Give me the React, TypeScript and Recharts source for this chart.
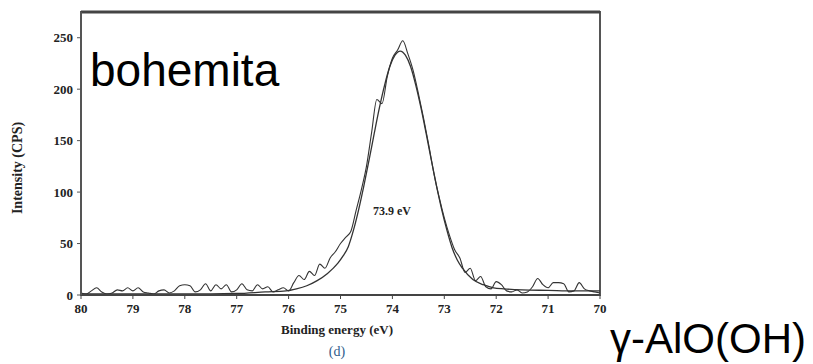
import React from 'react';
import { LineChart, Line, XAxis, YAxis, ReferenceArea, ReferenceLine } from 'recharts';

// experimental Al 2p spectrum (binding energy in eV, intensity in CPS)
const rawEnergy = [
  80.0, 79.9, 79.8, 79.7, 79.6, 79.5, 79.4, 79.3, 79.2, 79.1, 79.0, 78.9, 78.8, 78.7, 78.6, 78.5, 78.4, 78.3, 78.2, 78.1,
  78.0, 77.9, 77.8, 77.7, 77.6, 77.5, 77.4, 77.3, 77.2, 77.1, 77.0, 76.9, 76.8, 76.7, 76.6, 76.5, 76.4, 76.3, 76.2, 76.1,
  76.0, 75.9, 75.8, 75.7, 75.6, 75.5, 75.4, 75.3, 75.2, 75.1, 75.0, 74.9, 74.8, 74.7, 74.6, 74.5, 74.4, 74.3, 74.2, 74.1,
  74.0, 73.9, 73.8, 73.7, 73.6, 73.5, 73.4, 73.3, 73.2, 73.1, 73.0, 72.9, 72.8, 72.7, 72.6, 72.5, 72.4, 72.3, 72.2, 72.1,
  72.0, 71.9, 71.8, 71.7, 71.6, 71.5, 71.4, 71.3, 71.2, 71.1, 71.0, 70.9, 70.8, 70.7, 70.6, 70.5, 70.4, 70.3, 70.2, 70.1,
  70.0,
];
const rawCounts = [
  2, 1, 4, 7, 3, 1, 2, 5, 4, 7, 4, 7, 3, 2, 1, 4, 5, 2, 4, 9,
  10, 9, 3, 5, 11, 4, 10, 6, 10, 3, 5, 11, 5, 4, 10, 6, 8, 3, 5, 7,
  4, 12, 19, 15, 23, 19, 30, 26, 36, 42, 50, 56, 62, 82, 102, 125, 158, 190, 186, 212,
  230, 238, 247, 234, 218, 196, 172, 146, 118, 95, 75, 58, 44, 36, 22, 26, 14, 18, 8, 6,
  13, 10, 4, 3, 5, 2, 3, 8, 16, 10, 7, 12, 12, 11, 3, 4, 12, 6, 4, 3,
  2,
];

// fitted component, 73.9 eV
const fitEnergy = [
  80.0, 78.0, 77.0, 76.45, 76.05, 75.85, 75.65, 75.45, 75.25, 75.05, 74.95, 74.85, 74.75, 74.65, 74.55, 74.45, 74.35, 74.25,
  74.15, 74.05, 73.95, 73.85, 73.75, 73.65, 73.55, 73.45, 73.35, 73.25, 73.15, 73.05, 72.95, 72.85, 72.75, 72.65, 72.45,
  72.25, 72.05, 71.85, 71.5, 71.0, 70.5, 70.0,
];
const fitCounts = [
  1, 1, 1.5, 3, 4, 6, 9, 14, 21, 31, 38, 47, 63, 83, 106, 131, 157, 182,
  204, 222, 233, 237, 233, 222, 204, 182, 157, 131, 106, 83, 63, 46, 34, 26, 15,
  10, 7, 6, 5, 4.5, 4, 4,
];

const xTicks = [80, 79, 78, 77, 76, 75, 74, 73, 72, 71, 70];
const yTicks = [0, 50, 100, 150, 200, 250];

const rawData = rawEnergy.map((e, i) => ({ e, v: rawCounts[i] }));
const fitData = fitEnergy.map((e, i) => ({ e, v: fitCounts[i] }));

const serif = '"Liberation Serif", "Times New Roman", serif';
const sans = '"Liberation Sans", Arial, sans-serif';
const tickStyle = { fontFamily: serif, fontSize: 13, fontWeight: 700, fill: '#222' };

export default function App() {
  return (
    <div style={{ position: 'absolute', left: 0, top: 0, width: 813, height: 364, background: '#fff', overflow: 'hidden' }}>
      <LineChart width={813} height={364} margin={{ top: 12, right: 213, bottom: 0, left: 0 }}>
        <XAxis
          type="number"
          dataKey="e"
          domain={[70, 80]}
          reversed
          ticks={xTicks}
          allowDuplicatedCategory={false}
          height={69}
          tickSize={4}
          tickMargin={5}
          tick={tickStyle}
          axisLine={{ stroke: '#444', strokeWidth: 2 }}
          tickLine={{ stroke: '#444' }}
        />
        <YAxis
          type="number"
          domain={[0, 275]}
          ticks={yTicks}
          width={81}
          tickSize={4}
          tickMargin={4}
          tick={tickStyle}
          axisLine={{ stroke: '#555', strokeWidth: 2 }}
          tickLine={{ stroke: '#555' }}
        />
        <ReferenceArea x1={80} x2={70} y1={0} y2={275} fill="none" stroke="#555" strokeWidth={2} ifOverflow="visible" />
        <ReferenceLine y={275} stroke="#444" strokeWidth={3} ifOverflow="visible" />
        <Line data={fitData} dataKey="v" type="monotone" stroke="#333" strokeWidth={1.3} dot={false} isAnimationActive={false} />
        <Line data={rawData} dataKey="v" type="monotone" stroke="#333" strokeWidth={1.1} dot={false} isAnimationActive={false} />
      </LineChart>

      <div style={{ position: 'absolute', left: 90, top: 47, fontFamily: sans, fontSize: 46, lineHeight: '46px', color: '#000' }}>
        bohemita
      </div>
      <div style={{ position: 'absolute', left: 373, top: 204, fontFamily: serif, fontSize: 12, fontWeight: 700, lineHeight: '14px', color: '#222' }}>
        73.9 eV
      </div>
      <div style={{ position: 'absolute', left: 237, width: 200, top: 322, textAlign: 'center', fontFamily: serif, fontSize: 13, fontWeight: 700, lineHeight: '16px', color: '#222' }}>
        Binding energy (eV)
      </div>
      <div style={{ position: 'absolute', left: 237, width: 200, top: 344, textAlign: 'center', fontFamily: serif, fontSize: 14, lineHeight: '16px', color: '#2f5d8c' }}>
        (d)
      </div>
      <div
        style={{
          position: 'absolute', left: 18, top: 168, transform: 'translate(-50%, -50%) rotate(-90deg)', whiteSpace: 'nowrap',
          fontFamily: serif, fontSize: 14, fontWeight: 700, lineHeight: '16px', color: '#222',
        }}
      >
        Intensity (CPS)
      </div>
      <div style={{ position: 'absolute', left: 610, top: 318, fontFamily: sans, fontSize: 42, lineHeight: '42px', color: '#000', whiteSpace: 'nowrap' }}>
        γ-AlO(OH)
      </div>
    </div>
  );
}
